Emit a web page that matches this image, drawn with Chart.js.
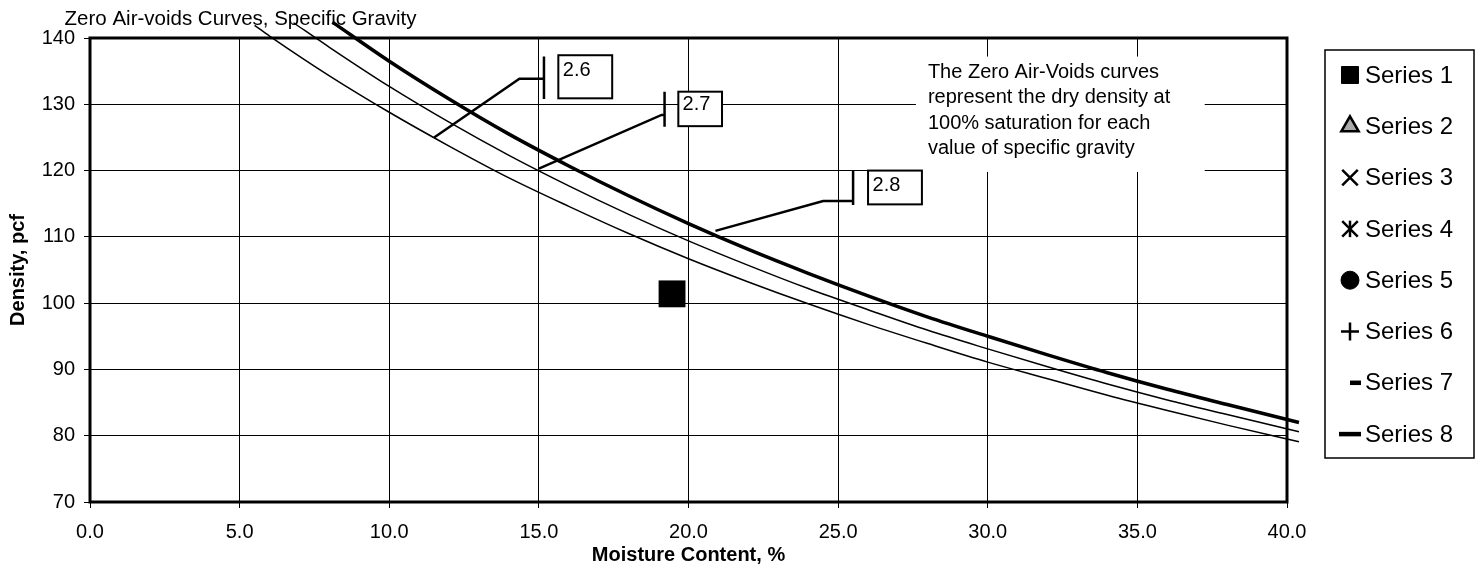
<!DOCTYPE html>
<html>
<head>
<meta charset="utf-8">
<title>Zero Air-Voids Curves</title>
<script src="https://cdn.jsdelivr.net/npm/chart.js@4.4.1/dist/chart.umd.min.js"></script>
<style>
  html, body { margin: 0; padding: 0; background: #fff; }
  canvas { display: block; }
</style>
</head>
<body>
<canvas id="zav" width="1477" height="567"></canvas>
<script>
const FONT = '"Liberation Sans", Arial, sans-serif';

// zero air-voids curves (moisture %, dry density pcf)
const gs26X = [5.5, 6, 8, 10, 12, 14, 16, 18, 20, 22, 24, 26, 28, 30, 32, 34, 36, 38, 40.4];
const gs26Y = [141.9, 140.3, 134.3, 128.8, 123.7, 118.9, 114.6, 110.5, 106.7, 103.2, 99.9, 96.8, 93.9, 91.1, 88.6, 86.1, 83.8, 81.6, 79.1];
const gs27X = [6.8, 8, 10, 12, 14, 16, 18, 20, 22, 24, 26, 28, 30, 32, 34, 36, 38, 40.4];
const gs27Y = [142.3, 138.6, 132.7, 127.3, 122.3, 117.7, 113.4, 109.4, 105.7, 102.2, 99.0, 95.9, 93.1, 90.4, 87.8, 85.4, 83.2, 80.6];
const gs28X = [8.1, 10, 12, 14, 16, 18, 20, 22, 24, 26, 28, 30, 32, 34, 36, 38, 40.4];
const gs28Y = [142.4, 136.5, 130.8, 125.5, 120.7, 116.2, 112.0, 108.1, 104.5, 101.1, 97.9, 95.0, 92.2, 89.5, 87.0, 84.7, 82.0];

// the one measured point (Series 1); Series 2-8 are empty
const series1X = [19.45];
const series1Y = [101.4];
const seriesNames = ['Series 1', 'Series 2', 'Series 3', 'Series 4', 'Series 5', 'Series 6', 'Series 7', 'Series 8'];
const gsLabels = ['2.6', '2.7', '2.8'];

const xTickValues = [0, 5, 10, 15, 20, 25, 30, 35, 40];
const yTickValues = [70, 80, 90, 100, 110, 120, 130, 140];

const titleText = 'Zero Air-voids Curves, Specific Gravity';
const noteLines = [
    'The Zero Air-Voids curves',
    'represent the dry density at',
    '100% saturation for each',
    'value of specific gravity'
];

function points(xs, ys) {
    return xs.map((x, i) => ({x: x, y: ys[i]}));
}

// legend markers for the eight series
const markers = [
    {pointStyle: 'rect', radius: 12, fill: '#000', border: 1},
    {pointStyle: 'triangle', radius: 10, fill: '#aaa', border: 2.5},
    {pointStyle: 'crossRot', radius: 11, fill: '#000', border: 2.5},
    {pointStyle: 'crossRot', radius: 11, fill: '#000', border: 2.5, vertical: true},
    {pointStyle: 'circle', radius: 9, fill: '#000', border: 1},
    {pointStyle: 'cross', radius: 9, fill: '#000', border: 2.5},
    {pointStyle: 'dash', radius: 11, fill: '#000', border: 4.5},
    {pointStyle: 'line', radius: 11, fill: '#000', border: 4.5}
];

const seriesSets = seriesNames.map((name, i) => ({
    label: name,
    data: i === 0 ? points(series1X, series1Y) : [],
    pointStyle: i === 0 ? 'rect' : markers[i].pointStyle,
    pointRadius: 19,
    backgroundColor: '#000',
    borderColor: '#000',
    borderWidth: 0,
    inLegend: true,
    marker: markers[i]
}));

function curve(label, xs, ys, width) {
    return {
        label: label,
        data: points(xs, ys),
        showLine: true,
        borderColor: '#000',
        borderWidth: width,
        pointRadius: 0,
        cubicInterpolationMode: 'monotone',
        clip: false
    };
}

// annotation layout, in data units
const leaders = [
    {start: [11.5, 125.0], corner: [14.35, 133.85], tickX: 15.17, tickY: [137.2, 130.8], box: [15.65, 137.4, 17.45, 130.9], textAt: [15.8, 135.1]},
    {start: [15.0, 120.3], corner: [19.1, 128.4], tickX: 19.2, tickY: [131.9, 126.6], box: [19.66, 131.9, 21.12, 126.7], textAt: [19.8, 129.9]},
    {start: [20.9, 110.9], corner: [24.5, 115.4], tickX: 25.5, tickY: [120.1, 114.8], box: [26.0, 120.0, 27.8, 114.9], textAt: [26.15, 117.7]}
];

const annotations = {
    id: 'annotations',
    beforeDatasetsDraw(chart) {
        const {ctx, chartArea} = chart;
        const xs = chart.scales.x, ys = chart.scales.y;
        const px = v => xs.getPixelForValue(v);
        const py = v => ys.getPixelForValue(v);

        ctx.save();
        // note text on white
        ctx.fillStyle = '#fff';
        ctx.fillRect(px(27.6), py(137.2), px(37.25) - px(27.6), py(119.8) - py(137.2));
        ctx.fillStyle = '#000';
        ctx.font = '20px ' + FONT;
        ctx.textBaseline = 'middle';
        const noteY = [134.8, 131.05, 127.15, 123.4];
        noteLines.forEach((t, i) => ctx.fillText(t, px(28.0), py(noteY[i])));

        // specific gravity labels with leader lines
        leaders.forEach((l, i) => {
            const [x1, y1, x2, y2] = l.box;
            ctx.fillStyle = '#fff';
            ctx.fillRect(px(x1), py(y1), px(x2) - px(x1), py(y2) - py(y1));
            ctx.strokeStyle = '#000';
            ctx.lineWidth = 2;
            ctx.strokeRect(px(x1), py(y1), px(x2) - px(x1), py(y2) - py(y1));
            ctx.fillStyle = '#000';
            ctx.fillText(gsLabels[i], px(l.textAt[0]), py(l.textAt[1]));

            ctx.lineWidth = 2.5;
            ctx.beginPath();
            ctx.moveTo(px(l.start[0]), py(l.start[1]));
            ctx.lineTo(px(l.corner[0]), py(l.corner[1]));
            ctx.lineTo(px(l.tickX), py(l.corner[1]));
            ctx.moveTo(px(l.tickX), py(l.tickY[0]));
            ctx.lineTo(px(l.tickX), py(l.tickY[1]));
            ctx.stroke();
        });

        // heavy plot frame
        ctx.lineWidth = 3;
        ctx.strokeStyle = '#000';
        ctx.strokeRect(chartArea.left, chartArea.top, chartArea.right - chartArea.left, chartArea.bottom - chartArea.top);

        // title above the plot
        ctx.font = '20.5px ' + FONT;
        ctx.fillText(titleText, px(-0.85), py(142.8));
        ctx.restore();
    },
    afterDraw(chart) {
        const {ctx, chartArea} = chart;
        const left = chartArea.right + 38, top = chartArea.top + 12;
        ctx.save();
        ctx.lineWidth = 1.5;
        ctx.strokeStyle = '#000';
        ctx.strokeRect(left, top, 149, 408);
        ctx.font = '24px ' + FONT;
        ctx.textBaseline = 'middle';
        chart.data.datasets.filter(d => d.inLegend).forEach((d, i) => {
            const cy = top + 25 + i * 51.3;
            const cx = left + 25;
            const m = d.marker;
            ctx.fillStyle = m.fill;
            ctx.strokeStyle = '#000';
            ctx.lineWidth = m.border;
            Chart.helpers.drawPoint(ctx, {pointStyle: m.pointStyle, radius: m.radius, rotation: 0, borderWidth: m.border}, cx, cy);
            if (m.vertical) {
                ctx.beginPath();
                ctx.moveTo(cx, cy - m.radius * 0.75);
                ctx.lineTo(cx, cy + m.radius * 0.75);
                ctx.stroke();
            }
            ctx.fillStyle = '#000';
            ctx.fillText(d.label, left + 40, cy + 1);
        });
        ctx.restore();
    }
};

new Chart(document.getElementById('zav'), {
    type: 'scatter',
    data: {
        datasets: seriesSets.concat([
            curve('Gs 2.6', gs26X, gs26Y, 1.5),
            curve('Gs 2.7', gs27X, gs27Y, 1.5),
            curve('Gs 2.8', gs28X, gs28Y, 3.5)
        ])
    },
    options: {
        responsive: false,
        animation: false,
        events: [],
        layout: {
            padding: {top: 38, right: 190, bottom: 0, left: 0}
        },
        plugins: {
            legend: {display: false},
            tooltip: {enabled: false}
        },
        scales: {
            x: {
                type: 'linear',
                min: 0,
                max: 40,
                afterBuildTicks: s => { s.ticks = xTickValues.map(v => ({value: v})); },
                afterFit: s => { s.height = 65; },
                ticks: {
                    color: '#000',
                    padding: 12,
                    maxRotation: 0,
                    font: {family: FONT, size: 20},
                    callback: v => Number(v).toFixed(1)
                },
                grid: {color: '#000', lineWidth: 1, tickLength: 6},
                border: {display: false},
                title: {
                    display: true,
                    text: 'Moisture Content, %',
                    color: '#000',
                    padding: {top: 0, bottom: 0},
                    font: {family: FONT, size: 20, weight: 'bold'}
                }
            },
            y: {
                type: 'linear',
                min: 70,
                max: 140,
                afterBuildTicks: s => { s.ticks = yTickValues.map(v => ({value: v})); },
                afterFit: s => { s.width = 90; },
                ticks: {
                    color: '#000',
                    padding: 9,
                    font: {family: FONT, size: 20}
                },
                grid: {color: '#000', lineWidth: 1, tickLength: 6},
                border: {display: false},
                title: {
                    display: true,
                    text: 'Density, pcf',
                    color: '#000',
                    padding: {top: 6, bottom: 0},
                    font: {family: FONT, size: 20, weight: 'bold'}
                }
            }
        }
    },
    plugins: [annotations]
});
</script>
</body>
</html>
